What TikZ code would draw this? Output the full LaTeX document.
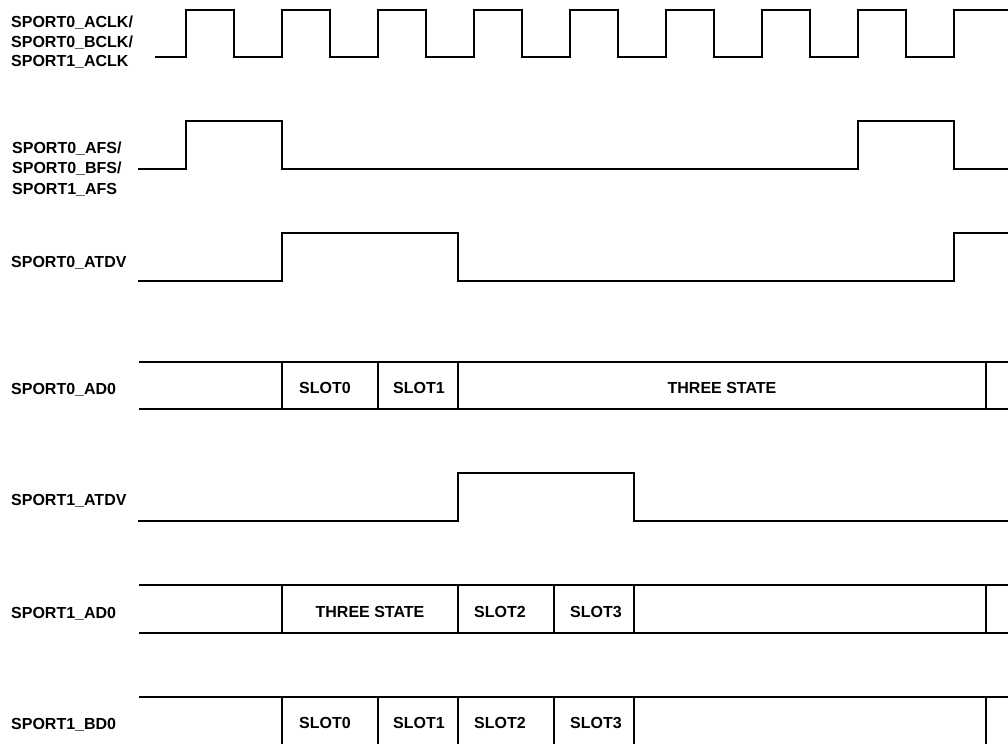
\documentclass[tikz,border=0pt]{standalone}
\usepackage{fontspec}
\setmainfont{Liberation Sans}
\usepackage{tikz}
\usetikzlibrary{positioning}

\begin{document}
\begin{tikzpicture}[
  x=1pt, y=-1pt,
  wave/.style={line width=1.8pt, line join=miter},
  sig/.style={anchor=west, inner sep=0pt, align=left, font=\bfseries\fontsize{16}{19.5}\selectfont},
  slot/.style={inner sep=0pt, font=\bfseries\fontsize{16}{19.5}\selectfont}
]
  \useasboundingbox (0,0) rectangle (1008,744);

  % signal names
  \node[sig] (clk) at (11,42.5) {SPORT0\_ACLK/\\SPORT0\_BCLK/\\SPORT1\_ACLK};
  \node[sig, font=\bfseries\fontsize{16}{20.5}\selectfont] (fs) at (12,169) {SPORT0\_AFS/\\SPORT0\_BFS/\\SPORT1\_AFS};
  \node[sig] (atdv0) at (11,263) {SPORT0\_ATDV};
  \node[sig] (ad0) at (11,390) {SPORT0\_AD0};
  \node[sig] (atdv1) at (11,501) {SPORT1\_ATDV};
  \node[sig] (ad1) at (11,614) {SPORT1\_AD0};
  \node[sig] (bd0) at (11,725) {SPORT1\_BD0};

  % clock and frame sync
  \draw[wave] (155,57) -| (186,10) -| (234,57) -| (282,10) -| (330,57) -| (378,10)
    -| (426,57) -| (474,10) -| (522,57) -| (570,10) -| (618,57) -| (666,10)
    -| (714,57) -| (762,10) -| (810,57) -| (858,10) -| (906,57) -| (954,10) -- (1008,10);
  \draw[wave] (138,169) -| (186,121) -| (282,169) -| (858,121) -| (954,169) -- (1008,169);

  % transmit data valid
  \draw[wave] (138,281) -| (282,233) -| (458,281) -| (954,233) -- (1008,233);
  \draw[wave] (138,521) -| (458,473) -| (634,521) -- (1008,521);

  % SPORT0_AD0 bus
  \draw[wave] (139,362) -- (1008,362) (139,409) -- (1008,409);
  \draw[wave] (282,362) -- (282,409) (378,362) -- (378,409)
    (458,362) -- (458,409) (986,362) -- (986,409);
  \node[slot] (a0s0) at (325,388) {SLOT0};
  \node[slot] (a0s1) at (419,388) {SLOT1};
  \node[slot] (a0ts) at (722,388) {THREE STATE};

  % SPORT1_AD0 bus
  \draw[wave] (139,585) -- (1008,585) (139,633) -- (1008,633);
  \draw[wave] (282,585) -- (282,633) (458,585) -- (458,633) (554,585) -- (554,633)
    (634,585) -- (634,633) (986,585) -- (986,633);
  \node[slot] (a1ts) at (370,612) {THREE STATE};
  \node[slot] (a1s2) at (500,612) {SLOT2};
  \node[slot] (a1s3) at (596,612) {SLOT3};

  % SPORT1_BD0 bus
  \draw[wave] (139,697) -- (1008,697);
  \draw[wave] (282,697) -- (282,744) (378,697) -- (378,744) (458,697) -- (458,744)
    (554,697) -- (554,744) (634,697) -- (634,744) (986,697) -- (986,744);
  \node[slot] (b0s0) at (325,723) {SLOT0};
  \node[slot] (b0s1) at (419,723) {SLOT1};
  \node[slot] (b0s2) at (500,723) {SLOT2};
  \node[slot] (b0s3) at (596,723) {SLOT3};
\end{tikzpicture}
\end{document}
